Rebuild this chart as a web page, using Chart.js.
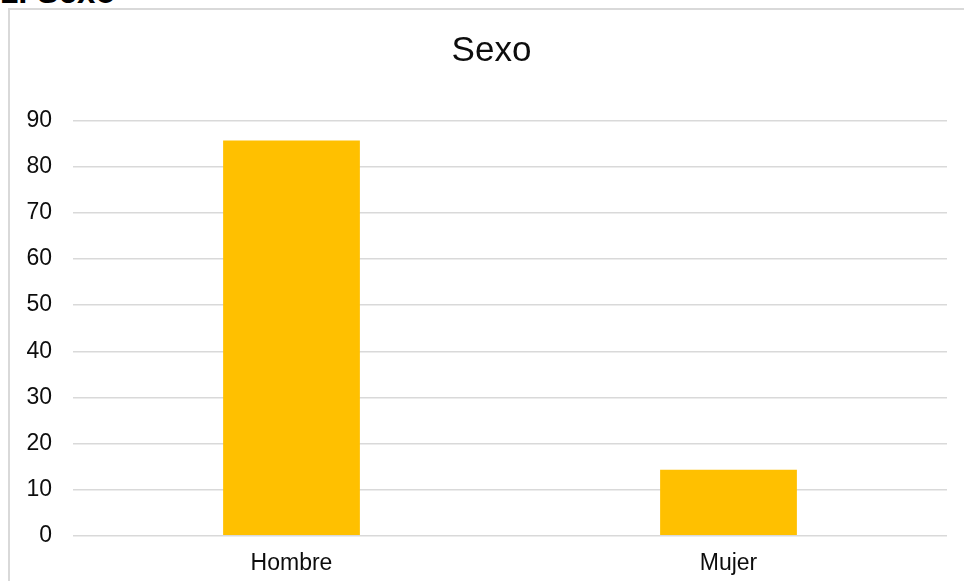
<!DOCTYPE html>
<html>
<head>
<meta charset="utf-8">
<script src="https://cdn.jsdelivr.net/npm/chart.js@4"></script>
<style>
  html, body { margin: 0; padding: 0; background: #fff; overflow: hidden; }
  .heading { position: absolute; left: 0; top: -27px; font: bold 33px "Liberation Sans", Arial, sans-serif; color: #000; white-space: nowrap; }
  .chart-wrap { position: absolute; left: 8px; top: 8px; width: 980px; height: 590px;
    border-left: 2px solid #d9d9d9; border-top: 2px solid #d9d9d9; }
  .chart-box { position: absolute; left: 0; top: 0; width: 963px; height: 571px; }
</style>
</head>
<body>
<div class="heading">1. Sexo</div>
<div class="chart-wrap">
  <div class="chart-box"><canvas id="sexo"></canvas></div>
</div>
<script>
// ── Data ───────────────────────────────
const categories = ['Hombre', 'Mujer'];
const values = [85.7, 14.3];
const yTicks = [0, 10, 20, 30, 40, 50, 60, 70, 80, 90];

const FONT = '"Liberation Sans", Arial, sans-serif';
const INK = '#0d0d0d';
Chart.defaults.font.family = FONT;
Chart.defaults.color = INK;

new Chart(document.getElementById('sexo'), {
  type: 'bar',
  data: {
    labels: categories,
    datasets: [{ label: 'Sexo', data: values, backgroundColor: '#FFC000',
      barPercentage: 0.313, categoryPercentage: 1 }]
  },
  options: {
    responsive: true, maintainAspectRatio: false, animation: false,
    layout: { padding: 0 },
    plugins: {
      legend: { display: false },
      tooltip: { enabled: false },
      title: { display: true, text: 'Sexo', color: INK,
        font: { size: 35, weight: 'normal', family: FONT },
        padding: { top: 20, bottom: 48.7 } }
    },
    scales: {
      x: {
        grid: { display: false, drawTicks: false },
        border: { display: false },
        ticks: { padding: 14, font: { size: 23 }, color: INK },
        afterFit: s => { s.height = 45.3; }
      },
      y: {
        min: 0, max: 90,
        afterBuildTicks: s => { s.ticks = yTicks.map(v => ({ value: v })); },
        grid: { color: '#d9d9d9', lineWidth: 1.5, drawTicks: false },
        border: { display: false },
        ticks: { padding: 21, font: { size: 23 }, color: INK },
        afterFit: s => { s.width = 63; }
      },
      // empty right gutter so the title centres on the whole frame
      gutter: {
        position: 'right', min: 0, max: 90,
        grid: { display: false, drawTicks: false },
        border: { display: false },
        ticks: { display: false },
        afterFit: s => { s.width = 26; }
      }
    }
  }
});
</script>
</body>
</html>
